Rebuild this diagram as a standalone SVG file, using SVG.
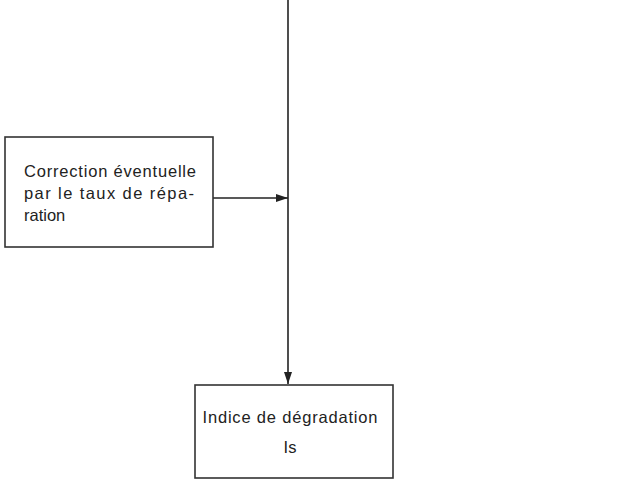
<svg xmlns="http://www.w3.org/2000/svg" width="621" height="487" viewBox="0 0 621 487">
<style>
.box{fill:#fff;stroke:#333;stroke-width:1.6}
.t{font-family:"Liberation Sans",Arial,sans-serif;font-size:16.5px;fill:#222}
.c{stroke:#222;stroke-width:1.6;fill:none}
</style>
<defs>
<marker id="ah" markerWidth="12" markerHeight="8" refX="12" refY="4" orient="auto" markerUnits="userSpaceOnUse">
<path d="M0,0 L12,4 L0,8 Z" fill="#222"/>
</marker>
</defs>
<rect width="621" height="487" fill="#fff"/>
<g id="connectors">
<line class="c" x1="288" y1="0" x2="288" y2="384" marker-end="url(#ah)"/>
<line class="c" x1="213" y1="198" x2="288" y2="198" marker-end="url(#ah)"/>
</g>
<g id="correction">
<rect class="box" x="5" y="137" width="208" height="110"/>
<text class="t" x="24" y="177" textLength="172">Correction éventuelle</text>
<text class="t" x="24" y="199" textLength="170">par le taux de répa-</text>
<text class="t" x="24" y="221">ration</text>
</g>
<g id="indice">
<rect class="box" x="195" y="385" width="198" height="93"/>
<text class="t" x="290" y="423" text-anchor="middle" textLength="175">Indice de dégradation</text>
<text class="t" x="290" y="453" text-anchor="middle">Is</text>
</g>
</svg>
